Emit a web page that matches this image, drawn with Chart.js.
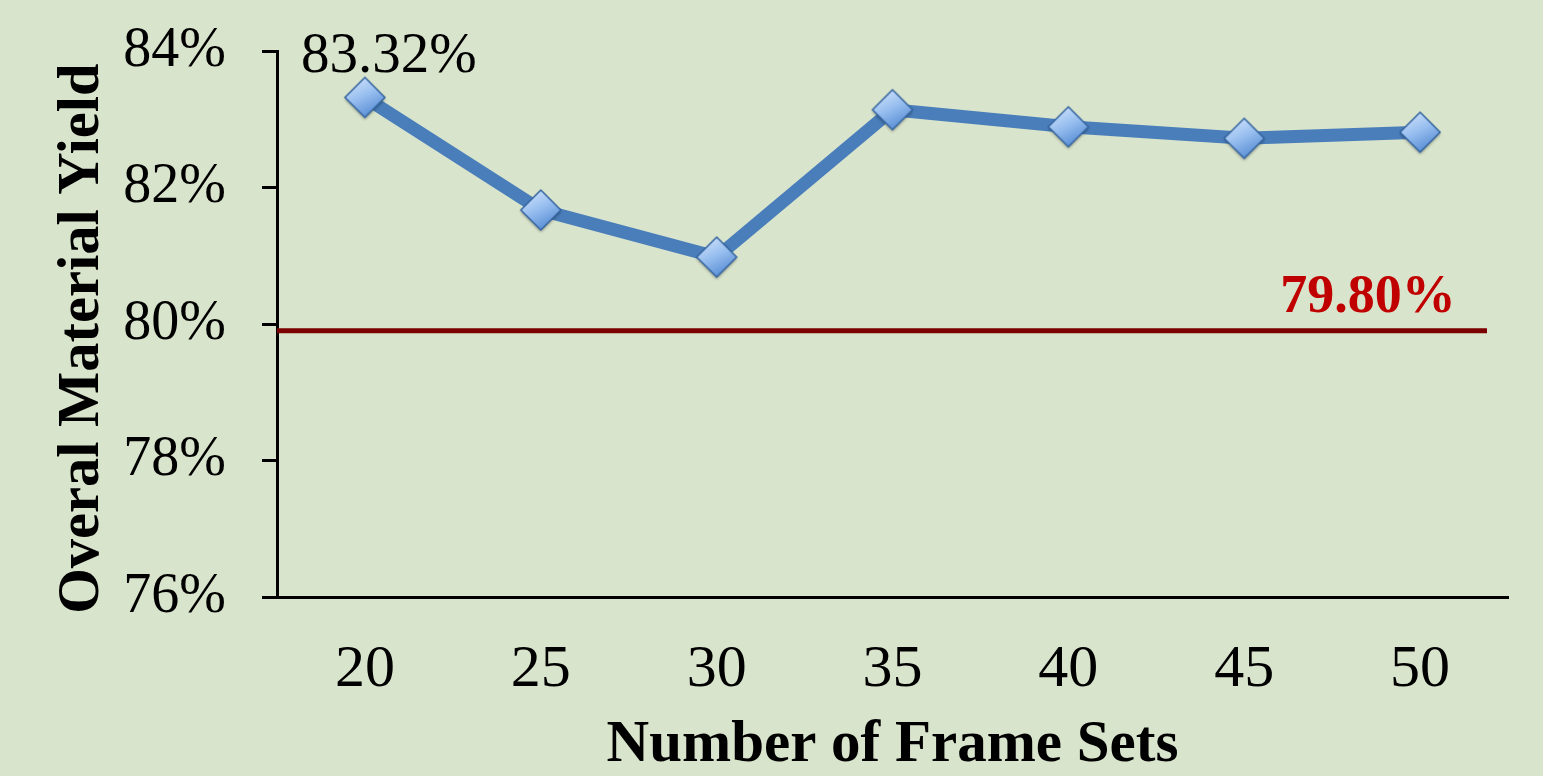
<!DOCTYPE html>
<html>
<head>
<meta charset="utf-8">
<script src="https://cdn.jsdelivr.net/npm/chart.js@4/dist/chart.umd.min.js"></script>
<style>
  html, body { margin: 0; padding: 0; background: #d9e4cc; }
  #wrap { width: 1543px; height: 776px; position: relative; }
</style>
</head>
<body>
<div id="wrap"><canvas id="yieldChart"></canvas></div>
<script>
// data
var frameSets = ["20", "25", "30", "35", "40", "45", "50"];
var yieldValues = [83.32, 81.67, 80.98, 83.14, 82.89, 82.72, 82.81];
var yTicks = [76, 78, 80, 82, 84];
var targetYield = 79.9;
var targetLabel = "79.80%";
var peakLabel = "83.32%";

var serif = "'Liberation Serif', 'Times New Roman', serif";

// diamond marker with a blue gradient, drawn once and used as pointStyle
function makeDiamond(r) {
  var c = document.createElement('canvas');
  var s = r * 2 + 8;
  c.width = s; c.height = s;
  var g = c.getContext('2d');
  var m = s / 2;
  g.beginPath();
  g.moveTo(m, m - r); g.lineTo(m + r, m); g.lineTo(m, m + r); g.lineTo(m - r, m);
  g.closePath();
  g.shadowColor = 'rgba(0,0,0,0.35)';
  g.shadowBlur = 3;
  g.shadowOffsetY = 2;
  var grad = g.createLinearGradient(m - r / 2, m - r, m + r / 2, m + r);
  grad.addColorStop(0, '#cfe2fb');
  grad.addColorStop(0.45, '#98bff0');
  grad.addColorStop(1, '#4f86d0');
  g.fillStyle = grad;
  g.fill();
  g.shadowColor = 'transparent';
  g.lineWidth = 1.5;
  g.strokeStyle = '#34649f';
  g.stroke();
  return c;
}
var diamond = makeDiamond(20);

var extras = {
  id: 'extras',
  beforeDatasetsDraw: function (chart) {
    var ctx = chart.ctx, area = chart.chartArea;
    var y = chart.scales.y.getPixelForValue(targetYield);
    ctx.save();
    ctx.strokeStyle = '#7b0000';
    ctx.lineWidth = 5;
    ctx.beginPath();
    ctx.moveTo(area.left, y);
    ctx.lineTo(area.right - 21, y);
    ctx.stroke();
    ctx.fillStyle = '#c00000';
    ctx.font = "bold 54px " + serif;
    ctx.textAlign = 'center';
    ctx.textBaseline = 'alphabetic';
    ctx.fillText(targetLabel, area.right - 140, y - 19);
    ctx.restore();
  },
  afterDatasetsDraw: function (chart) {
    var ctx = chart.ctx;
    var pt = chart.getDatasetMeta(0).data[0];
    ctx.save();
    ctx.fillStyle = '#000';
    ctx.font = "57px " + serif;
    ctx.textAlign = 'center';
    ctx.textBaseline = 'alphabetic';
    ctx.fillText(peakLabel, pt.x + 24, pt.y - 25);
    ctx.restore();
  }
};

var ctxYield = document.getElementById('yieldChart');
var yieldChart = new Chart(ctxYield, {
  type: 'line',
  data: {
    labels: frameSets,
    datasets: [{
      label: 'Overal Material Yield',
      data: yieldValues,
      borderColor: '#4a7ebb',
      borderWidth: 13,
      tension: 0,
      fill: false,
      pointStyle: diamond,
      pointRadius: 20,
      clip: false
    }]
  },
  options: {
    responsive: true,
    maintainAspectRatio: false,
    animation: false,
    layout: { padding: { left: 48, right: 35, top: 51, bottom: 0 } },
    plugins: {
      legend: { display: false },
      tooltip: { enabled: false }
    },
    scales: {
      x: {
        offset: true,
        grid: { display: false, drawTicks: false },
        border: { color: '#000', width: 3 },
        ticks: { color: '#000', padding: 37, font: { family: serif, size: 60 } },
        title: {
          display: true,
          text: 'Number of Frame Sets',
          color: '#000',
          padding: { top: 0, bottom: -5 },
          font: { family: serif, size: 59, weight: 'bold' }
        },
        afterFit: function (scale) { scale.height = 179; }
      },
      y: {
        min: 76,
        max: 84,
        afterBuildTicks: function (scale) {
          scale.ticks = yTicks.map(function (v) { return { value: v }; });
        },
        grid: { drawOnChartArea: false, drawTicks: true, tickLength: 15, color: '#000', lineWidth: 3 },
        border: { color: '#000', width: 3 },
        ticks: {
          color: '#000',
          padding: 36,
          font: { family: serif, size: 56 },
          callback: function (v) { return v + '%'; }
        },
        title: {
          display: true,
          // two trailing spaces nudge the rotated title down like the original
          text: 'Overal Material Yield  ',
          color: '#000',
          padding: { top: 0, bottom: 0 },
          font: { family: serif, size: 58.5, weight: 'bold' }
        },
        afterFit: function (scale) {
          scale.width = 229;
          scale.paddingTop = 0;
          scale.paddingBottom = 0;
        }
      }
    }
  },
  plugins: [extras]
});
</script>
</body>
</html>
